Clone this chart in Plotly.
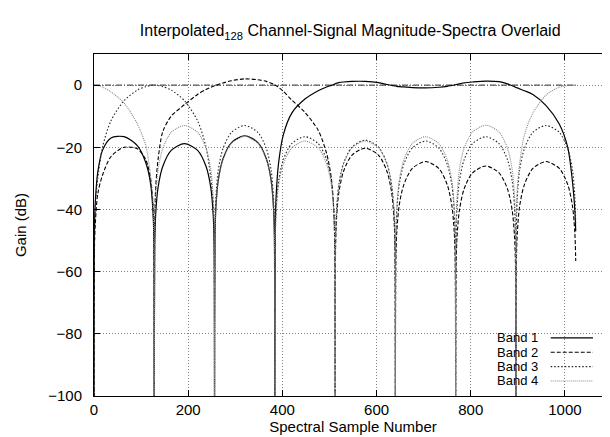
import plotly.graph_objects as go

# spectral sample positions (8 blocks of 128 samples, denser next to the nulls)
SAMPLE = [
    0, 1, 3, 8, 18, 36, 64, 92, 110, 120, 125, 127,
    128, 129, 131, 136, 146, 164, 192, 220, 238, 248, 253, 255,
    256, 257, 259, 264, 274, 292, 320, 348, 366, 376, 381, 383,
    384, 385, 387, 392, 402, 420, 448, 476, 494, 504, 509, 511,
    512, 513, 515, 520, 530, 548, 576, 604, 622, 632, 637, 639,
    640, 641, 643, 648, 658, 676, 704, 732, 750, 760, 765, 767,
    768, 769, 771, 776, 786, 804, 832, 860, 878, 888, 893, 895,
    896, 897, 899, 904, 914, 932, 960, 988, 1006, 1016, 1021, 1023,
]

# gain in dB (nulls sit below the -100 floor)
BAND1 = [
    -110, -46, -37, -28, -21, -17, -16.6, -19.5, -25, -31.5, -40, -49,
    -110, -51, -41.5, -33, -26.2, -21, -18.8, -21, -26.2, -33, -41.5, -51,
    -110, -48.3, -39, -30.5, -23.7, -18.5, -16.3, -18.5, -23.7, -30.5, -39, -48.3,
    -110, -45, -35, -25, -16, -9, -4.5, -1.8, -0.6, -0.1, 0.2, 0.3,
    0.5, 0.5, 0.6, 0.8, 1.0, 1.2, 1.2, 0.8, 0.2, -0.1, -0.2, -0.3,
    -0.3, -0.3, -0.4, -0.5, -0.6, -0.8, -0.9, -0.7, -0.4, -0.1, 0.0, 0.1,
    0.1, 0.2, 0.2, 0.4, 0.7, 1.0, 1.3, 1.1, 0.4, -0.2, -0.5, -0.7,
    -0.8, -0.8, -0.9, -1.2, -1.8, -3.0, -6.6, -12.5, -20, -31, -40, -47,
]
BAND2 = [
    -110, -52, -44, -35, -29, -23, -20, -20.5, -24, -30, -38, -48,
    -110, -45, -33, -24, -15, -10, -6.3, -3, -1.4, -0.7, -0.4, -0.3,
    -0.2, -0.2, -0.1, 0.2, 0.7, 1.4, 2.0, 1.7, 1.2, 0.6, 0.3, 0.2,
    0.0, -0.1, -0.2, -0.7, -2.0, -4.8, -8.8, -14.5, -22, -30, -40, -50,
    -110, -52.3, -43, -34.5, -27.7, -22.5, -20.3, -22.5, -27.7, -34.5, -43, -52.3,
    -110, -56.6, -47.3, -38.8, -32, -26.8, -24.6, -26.8, -32, -38.8, -47.3, -56.6,
    -110, -58, -48.7, -40.2, -33.4, -28.2, -26, -28.2, -33.4, -40.2, -48.7, -58,
    -110, -56.6, -47.3, -38.8, -32, -26.8, -24.6, -26.8, -32, -38.8, -47.3, -56.6,
]
BAND3 = [
    -110, -50, -38, -30, -20, -11.5, -5, -1.6, -0.5, -0.1, 0.0, 0.0,
    0.0, 0.0, 0.0, -0.1, -0.5, -1.6, -5, -11.5, -20, -30, -38, -50,
    -110, -45, -35.7, -27.2, -20.4, -15.2, -13, -15.2, -20.4, -27.2, -35.7, -45,
    -110, -48.6, -39.3, -30.8, -24, -18.8, -16.6, -18.8, -24, -30.8, -39.3, -48.6,
    -110, -49.7, -40.4, -31.9, -25.1, -19.9, -17.7, -19.9, -25.1, -31.9, -40.4, -49.7,
    -110, -50, -40.7, -32.2, -25.4, -20.2, -18, -20.2, -25.4, -32.2, -40.7, -50,
    -110, -48.6, -39.3, -30.8, -24, -18.8, -16.6, -18.8, -24, -30.8, -39.3, -48.6,
    -110, -45, -35.7, -27.2, -20.4, -15.2, -13, -15.2, -20.4, -27.2, -35.7, -45,
]
BAND4 = [
    0.0, 0.0, 0.0, -0.1, -0.6, -2.2, -5.8, -12.5, -19.5, -29, -37, -49,
    -110, -45, -35.7, -27.2, -20.4, -15.2, -13, -15.2, -20.4, -27.2, -35.7, -45,
    -110, -48.5, -39.2, -30.7, -23.9, -18.7, -16.5, -18.7, -23.9, -30.7, -39.2, -48.5,
    -110, -50, -40.7, -32.2, -25.4, -20.2, -18, -20.2, -25.4, -32.2, -40.7, -50,
    -110, -50, -40.7, -32.2, -25.4, -20.2, -18, -20.2, -25.4, -32.2, -40.7, -50,
    -110, -48.6, -39.3, -30.8, -24, -18.8, -16.6, -18.8, -24, -30.8, -39.3, -48.6,
    -110, -44.9, -35.6, -27.1, -20.3, -15.1, -12.9, -15.1, -20.3, -27.1, -35.6, -44.9,
    -110, -45, -33, -25, -16, -9, -3.2, -0.7, -0.1, 0.0, 0.0, 0.0,
]
# overall (summed) response, flat at 0 dB
SUM_X = [0, 1023]
SUM_DB = [0, 0]

BANDS = ['Band 1', 'Band 2', 'Band 3', 'Band 4']
FONT = 'Liberation Sans, Arial, sans-serif'

styles = [
    dict(color='black', width=1.2, dash='solid'),
    dict(color='black', width=1.1, dash='4px,2px'),
    dict(color='#222222', width=1.1, dash='1.5px,2px'),
    dict(color='#8a8a8a', width=1.1, dash='1px,1px'),
]

fig = go.Figure()
fig.add_trace(go.Scatter(
    x=SUM_X, y=SUM_DB, mode='lines', showlegend=False,
    line=dict(color='#555555', width=1.2, dash='6px,2px,1px,2px')
))
for name, vals, st in zip(BANDS, [BAND1, BAND2, BAND3, BAND4], styles):
    fig.add_trace(go.Scatter(
        x=SAMPLE, y=vals, mode='lines', name=name, showlegend=False,
        line=dict(color=st['color'], width=st['width'], dash=st['dash'],
                  shape='spline', smoothing=0.8)
    ))

# gnuplot-style key: label on the left, line sample on the right
row_y = [0.170, 0.128, 0.086, 0.044]
fig.add_shape(type='rect', xref='paper', yref='paper', x0=0.755, x1=0.983,
              y0=0.0, y1=0.205, fillcolor='white', line_width=0, layer='between')
for name, st, yy in zip(BANDS, styles, row_y):
    fig.add_annotation(xref='paper', yref='paper', x=0.8604, y=yy, text=name,
                       showarrow=False, xanchor='right', yanchor='middle',
                       font=dict(family=FONT, size=13, color='black'))
    fig.add_shape(type='line', xref='paper', yref='paper', x0=0.8817, x1=0.9633,
                  y0=yy, y1=yy,
                  line=dict(color=st['color'], width=st['width'], dash=st['dash']))

axis_common = dict(
    showline=True, linecolor='black', linewidth=1, mirror='ticks',
    ticks='inside', ticklen=6, tickcolor='black',
    showgrid=True, gridcolor='#808080', griddash='1px,2px', gridwidth=1,
    zeroline=False, tickfont=dict(family=FONT, size=15, color='black'),
)

fig.update_layout(
    width=610, height=437,
    margin=dict(l=86, r=6, t=46, b=49),
    paper_bgcolor='white', plot_bgcolor='white',
    font=dict(family=FONT, size=15, color='black'),
    title=dict(text='Interpolated<sub>128</sub> Channel-Signal Magnitude-Spectra Overlaid',
               x=0.561, xanchor='center', y=0.948, yanchor='middle',
               font=dict(family=FONT, size=16, color='black')),
    xaxis=dict(range=[0, 1100], tickvals=[0, 200, 400, 600, 800, 1000],
               title=dict(text='Spectral Sample Number', standoff=0,
                          font=dict(family=FONT, size=15)),
               ticklabelstandoff=0, **axis_common),
    yaxis=dict(range=[-100, 10], tickvals=[-100, -80, -60, -40, -20, 0],
               title=dict(text='Gain (dB)', standoff=17,
                          font=dict(family=FONT, size=15)),
               ticklabelstandoff=8, **axis_common),
    showlegend=False,
)

fig.write_html('out.html')
